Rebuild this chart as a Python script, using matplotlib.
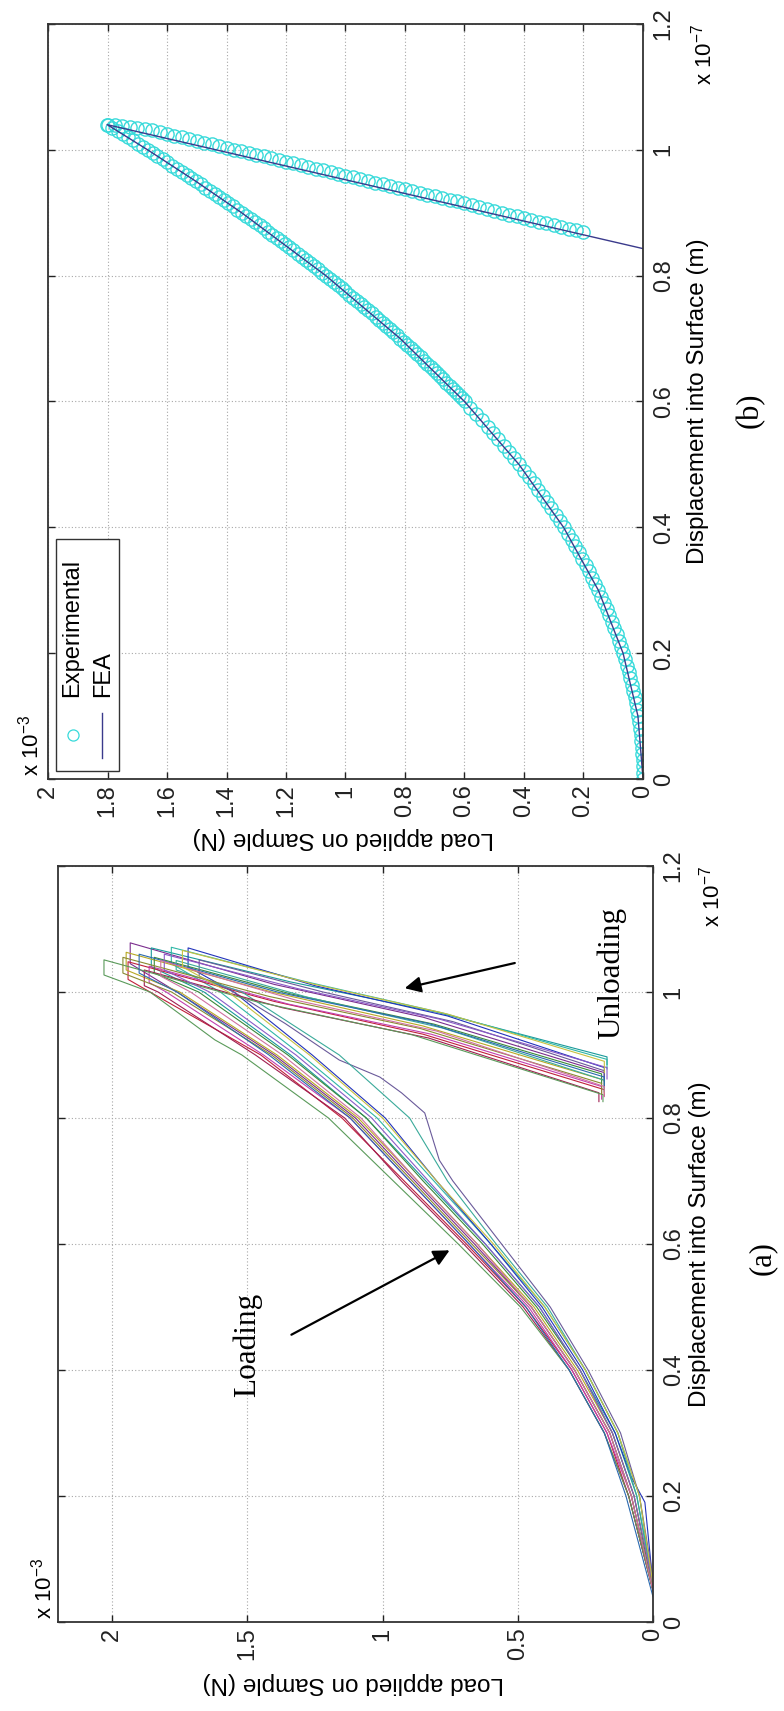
import matplotlib
matplotlib.use("Agg")
from matplotlib import pyplot as plt
from matplotlib.patches import Rectangle

plt.rcParams['font.family'] = ['Liberation Sans', 'DejaVu Sans']
plt.rcParams['mathtext.default'] = 'regular'

# units: load in 1e-3 N, displacement in 1e-7 m

# ---- panel (b): experimental circles + FEA line
exp_load_disp = [
    0.00, 0.01, 0.02, 0.03, 0.04, 0.05, 0.06, 0.07, 0.08, 0.09,
    0.10, 0.11, 0.12, 0.13, 0.14, 0.15, 0.16, 0.17, 0.18, 0.19,
    0.20, 0.21, 0.22, 0.23, 0.24, 0.25, 0.26, 0.27, 0.28, 0.29,
    0.30, 0.31, 0.32, 0.33, 0.34, 0.35, 0.36, 0.37, 0.38, 0.39,
    0.40, 0.41, 0.42, 0.43, 0.44, 0.45, 0.46, 0.47, 0.48, 0.49,
    0.50, 0.51, 0.52, 0.53, 0.54, 0.55, 0.56, 0.57, 0.58, 0.59,
    0.600, 0.605, 0.610, 0.615, 0.620, 0.625, 0.630, 0.635, 0.640, 0.645,
    0.650, 0.655, 0.660, 0.665, 0.670, 0.675, 0.680, 0.685, 0.690, 0.695,
    0.700, 0.705, 0.710, 0.715, 0.720, 0.725, 0.730, 0.735, 0.740, 0.745,
    0.750, 0.755, 0.760, 0.765, 0.770, 0.775, 0.780, 0.785, 0.790, 0.795,
    0.800, 0.805, 0.810, 0.815, 0.820, 0.825, 0.830, 0.835, 0.840, 0.845,
    0.850, 0.855, 0.860, 0.865, 0.870, 0.875, 0.880, 0.885, 0.890, 0.895,
    0.900, 0.905, 0.910, 0.915, 0.920, 0.925, 0.930, 0.935, 0.940, 0.945,
    0.950, 0.955, 0.960, 0.965, 0.970, 0.975, 0.980, 0.985, 0.990, 0.995,
    1.000, 1.005, 1.010, 1.015, 1.020, 1.025, 1.030, 1.035, 1.040]
exp_load_force = [
    0.000, 0.000, 0.001, 0.001, 0.003, 0.004, 0.006, 0.008, 0.011, 0.013,
    0.017, 0.020, 0.024, 0.028, 0.033, 0.037, 0.043, 0.048, 0.054, 0.060,
    0.067, 0.073, 0.081, 0.088, 0.096, 0.104, 0.113, 0.121, 0.131, 0.140,
    0.150, 0.160, 0.170, 0.181, 0.192, 0.204, 0.216, 0.228, 0.240, 0.253,
    0.266, 0.280, 0.294, 0.308, 0.322, 0.337, 0.352, 0.368, 0.384, 0.400,
    0.416, 0.433, 0.450, 0.468, 0.486, 0.504, 0.522, 0.541, 0.560, 0.580,
    0.599, 0.609, 0.620, 0.630, 0.640, 0.650, 0.661, 0.671, 0.682, 0.693,
    0.703, 0.714, 0.725, 0.736, 0.747, 0.759, 0.770, 0.781, 0.793, 0.804,
    0.816, 0.828, 0.839, 0.851, 0.863, 0.875, 0.887, 0.899, 0.912, 0.924,
    0.937, 0.949, 0.962, 0.974, 0.987, 1.000, 1.013, 1.026, 1.039, 1.052,
    1.066, 1.079, 1.092, 1.106, 1.120, 1.133, 1.147, 1.161, 1.175, 1.189,
    1.203, 1.217, 1.231, 1.246, 1.260, 1.275, 1.289, 1.304, 1.319, 1.334,
    1.349, 1.364, 1.379, 1.394, 1.409, 1.425, 1.440, 1.456, 1.471, 1.487,
    1.503, 1.519, 1.534, 1.550, 1.567, 1.583, 1.599, 1.615, 1.632, 1.648,
    1.665, 1.682, 1.699, 1.715, 1.732, 1.749, 1.766, 1.784, 1.801]

exp_unload_force = [
    1.800, 1.775, 1.750, 1.725, 1.700, 1.675, 1.650, 1.625, 1.600, 1.575,
    1.550, 1.525, 1.500, 1.475, 1.450, 1.425, 1.400, 1.375, 1.350, 1.325,
    1.300, 1.275, 1.250, 1.225, 1.200, 1.175, 1.150, 1.125, 1.100, 1.075,
    1.050, 1.025, 1.000, 0.975, 0.950, 0.925, 0.900, 0.875, 0.850, 0.825,
    0.800, 0.775, 0.750, 0.725, 0.700, 0.675, 0.650, 0.625, 0.600, 0.575,
    0.550, 0.525, 0.500, 0.475, 0.450, 0.425, 0.400, 0.375, 0.350, 0.325,
    0.300, 0.275, 0.250, 0.225, 0.200]
exp_unload_disp = [
    1.040, 1.039, 1.038, 1.037, 1.035, 1.033, 1.031, 1.028, 1.025, 1.022,
    1.020, 1.017, 1.014, 1.011, 1.009, 1.006, 1.003, 1.000, 0.998, 0.995,
    0.992, 0.990, 0.987, 0.984, 0.981, 0.979, 0.976, 0.973, 0.970, 0.968,
    0.965, 0.962, 0.959, 0.957, 0.954, 0.951, 0.948, 0.946, 0.943, 0.940,
    0.938, 0.935, 0.932, 0.929, 0.927, 0.924, 0.921, 0.918, 0.915, 0.912,
    0.909, 0.906, 0.903, 0.900, 0.897, 0.895, 0.891, 0.888, 0.885, 0.883,
    0.880, 0.877, 0.874, 0.872, 0.869]

fea_disp = [0.0, 0.1, 0.2, 0.3, 0.4, 0.5, 0.6, 0.7, 0.8, 0.9, 0.95, 1.0, 1.04, 0.9415, 0.843]
fea_force = [0.0, 0.017, 0.067, 0.150, 0.267, 0.417, 0.600, 0.816, 1.066, 1.349, 1.503, 1.665, 1.801, 0.9, 0.0]

# ---- panel (a): repeated indentation tests
curve_disp = [
    [0.05, 0.2, 0.3, 0.4, 0.5, 0.6, 0.7, 0.8, 0.9, 1.0, 1.045, 1.078, 1.012, 0.960, 0.872, 0.852],
    [0.06, 0.2, 0.3, 0.4, 0.5, 0.6, 0.7, 0.8, 0.9, 1.0, 1.040, 1.070, 1.016, 0.968, 0.897, 0.885],
    [0.05, 0.2, 0.3, 0.4, 0.5, 0.6, 0.7, 0.8, 0.9, 1.0, 1.045, 1.071, 1.017, 0.967, 0.893, 0.878],
    [0.06, 0.19, 0.23, 0.3, 0.4, 0.5, 0.6, 0.7, 0.8, 0.9, 1.0, 1.040, 1.070, 1.010, 0.962, 0.880, 0.862],
    [0.05, 0.2, 0.3, 0.4, 0.5, 0.6, 0.7, 0.8, 0.9, 1.0, 1.020, 1.048, 0.985, 0.933, 0.845, 0.835],
    [0.05, 0.2, 0.3, 0.4, 0.5, 0.6, 0.7, 0.8, 0.9, 1.0, 1.015, 1.041, 0.981, 0.933, 0.850, 0.830],
    [0.06, 0.2, 0.3, 0.4, 0.5, 0.6, 0.7, 0.8, 0.9, 1.0, 1.035, 1.063, 1.000, 0.946, 0.860, 0.840],
    [0.05, 0.2, 0.3, 0.4, 0.5, 0.6, 0.7, 0.8, 0.9, 1.0, 1.030, 1.055, 0.997, 0.949, 0.870, 0.855],
    [0.07, 0.2, 0.3, 0.4, 0.5, 0.6, 0.7, 0.733, 0.808, 0.84, 0.865, 0.892, 0.95, 1.0, 1.025, 1.051, 1.000, 0.953, 0.875, 0.858],
    [0.06, 0.2, 0.3, 0.4, 0.5, 0.6, 0.7, 0.8, 0.9, 1.0, 1.035, 1.050, 0.992, 0.943, 0.860, 0.842],
    [0.05, 0.2, 0.3, 0.4, 0.5, 0.6, 0.7, 0.8, 0.9, 1.0, 1.010, 1.035, 0.975, 0.927, 0.840, 0.826],
    [0.05, 0.2, 0.3, 0.4, 0.5, 0.6, 0.7, 0.8, 0.9, 0.924, 1.0, 1.027, 1.051, 0.985, 0.932, 0.837, 0.826],
    [0.06, 0.2, 0.3, 0.4, 0.5, 0.6, 0.7, 0.8, 0.9, 1.0, 1.035, 1.060, 1.005, 0.957, 0.880, 0.862],
    [0.05, 0.2, 0.3, 0.4, 0.5, 0.6, 0.7, 0.8, 0.9, 1.0, 1.030, 1.055, 0.993, 0.942, 0.855, 0.838],
    [0.04, 0.2, 0.3, 0.4, 0.5, 0.6, 0.7, 0.8, 0.9, 1.0, 1.030, 1.060, 0.999, 0.950, 0.865, 0.848],
    [0.05, 0.2, 0.3, 0.4, 0.5, 0.6, 0.7, 0.8, 0.9, 1.0, 1.025, 1.050, 0.987, 0.938, 0.850, 0.834],
    [0.06, 0.2, 0.3, 0.4, 0.5, 0.6, 0.7, 0.8, 0.9, 1.0, 1.040, 1.066, 1.013, 0.965, 0.890, 0.872],
]
curve_force = [
    [0, 0.08, 0.16, 0.29, 0.45, 0.66, 0.88, 1.10, 1.40, 1.76, 1.933, 1.933, 1.40, 0.85, 0.18, 0.18],
    [0, 0.06, 0.14, 0.27, 0.42, 0.62, 0.84, 1.06, 1.34, 1.66, 1.855, 1.855, 1.34, 0.80, 0.17, 0.17],
    [0, 0.05, 0.13, 0.25, 0.40, 0.60, 0.81, 1.02, 1.30, 1.60, 1.781, 1.781, 1.29, 0.78, 0.17, 0.17],
    [0, 0.03, 0.08, 0.14, 0.26, 0.41, 0.60, 0.80, 0.99, 1.26, 1.55, 1.719, 1.719, 1.25, 0.76, 0.18, 0.18],
    [0, 0.09, 0.17, 0.30, 0.47, 0.69, 0.92, 1.15, 1.45, 1.86, 1.941, 1.941, 1.40, 0.85, 0.18, 0.18],
    [0, 0.08, 0.17, 0.30, 0.46, 0.68, 0.90, 1.12, 1.44, 1.80, 1.863, 1.863, 1.35, 0.82, 0.19, 0.19],
    [0, 0.07, 0.15, 0.28, 0.44, 0.65, 0.87, 1.09, 1.39, 1.75, 1.948, 1.948, 1.41, 0.85, 0.18, 0.18],
    [0, 0.07, 0.15, 0.27, 0.43, 0.63, 0.85, 1.06, 1.35, 1.68, 1.844, 1.844, 1.34, 0.81, 0.19, 0.19],
    [0, 0.05, 0.12, 0.24, 0.38, 0.56, 0.74, 0.79, 0.844, 0.93, 1.01, 1.16, 1.36, 1.55, 1.678, 1.678, 1.22, 0.74, 0.18, 0.18],
    [0, 0.06, 0.13, 0.25, 0.39, 0.58, 0.76, 0.90, 1.16, 1.52, 1.763, 1.763, 1.28, 0.78, 0.18, 0.18],
    [0, 0.09, 0.18, 0.31, 0.48, 0.70, 0.93, 1.14, 1.47, 1.83, 1.881, 1.881, 1.37, 0.83, 0.20, 0.20],
    [0, 0.09, 0.18, 0.31, 0.49, 0.72, 0.96, 1.20, 1.52, 1.62, 1.86, 2.03, 2.03, 1.47, 0.89, 0.185, 0.185],
    [0, 0.07, 0.15, 0.27, 0.42, 0.62, 0.83, 1.04, 1.32, 1.64, 1.807, 1.807, 1.31, 0.79, 0.17, 0.17],
    [0, 0.08, 0.16, 0.29, 0.45, 0.67, 0.89, 1.11, 1.41, 1.78, 1.96, 1.96, 1.42, 0.86, 0.19, 0.19],
    [0, 0.10, 0.18, 0.31, 0.47, 0.68, 0.90, 1.12, 1.42, 1.76, 1.90, 1.90, 1.38, 0.83, 0.18, 0.18],
    [0, 0.08, 0.16, 0.29, 0.45, 0.65, 0.87, 1.08, 1.37, 1.71, 1.82, 1.82, 1.32, 0.80, 0.18, 0.18],
    [0, 0.05, 0.13, 0.25, 0.40, 0.59, 0.80, 1.00, 1.27, 1.57, 1.74, 1.74, 1.26, 0.76, 0.18, 0.18],
]
curve_colors = ['#7b2d8e', '#1a9a9a', '#2fb7a6', '#2233bb', '#c0203a', '#c23fb0',
                '#b8a825', '#3a8a3a', '#6a5a9a', '#3aaa9a', '#a01e50', '#5a9a5a',
                '#8a5ac8', '#8a8a30', '#2a6ab0', '#d070a0', '#c8c040']

disp_ticks = [0, 0.2, 0.4, 0.6, 0.8, 1, 1.2]
load_ticks_a = [0, 0.5, 1, 1.5, 2]
load_ticks_b = [0, 0.2, 0.4, 0.6, 0.8, 1, 1.2, 1.4, 1.6, 1.8, 2]

CYAN = '#38dada'
FEA_COLOR = '#3a3a8c'
W, H = 784.0, 1711.0


def style_axes(ax, load_max, load_ticks):
    # rotated matlab style axes: load runs right->left, displacement bottom->top
    ax.set_xlim(load_max, 0)
    ax.set_ylim(0, 1.2)
    ax.set_xticks(load_ticks)
    ax.set_xticklabels(['%g' % t for t in load_ticks], rotation=90)
    ax.set_yticks(disp_ticks)
    ax.set_yticklabels(['%g' % t for t in disp_ticks], rotation=90, va='center')
    ax.tick_params(direction='in', length=5, width=1, top=True, bottom=True,
                   left=True, right=True, labelleft=False, labelright=True,
                   labelsize=17, colors='#222222')
    ax.tick_params(axis='x', pad=4)
    ax.tick_params(axis='y', pad=7)
    ax.grid(True, linestyle=(0, (1, 2)), color='#a8a8a8', linewidth=0.8)
    for sp in ax.spines.values():
        sp.set_linewidth(1.3)
        sp.set_color('#333333')


def px_axes(left, top, right, bottom):
    return [left / W, 1 - bottom / H, (right - left) / W, (bottom - top) / H]


fig = plt.figure(figsize=(7.84, 17.11), dpi=100)
ax_b = fig.add_axes(px_axes(48, 24, 643, 779))
ax_a = fig.add_axes(px_axes(58, 866, 653, 1622))

# panel (b)
ax_b.plot(exp_load_force, exp_load_disp, 'o', mfc='none', mec=CYAN, ms=9.5, mew=1.0)
ax_b.plot(exp_unload_force, exp_unload_disp, 'o', mfc='none', mec=CYAN, ms=9.5, mew=1.0)
ax_b.plot(fea_force, fea_disp, color=FEA_COLOR, lw=1.0)
style_axes(ax_b, 2.0, load_ticks_b)

# hand made legend (rotated like the rest)
ax_b.add_patch(Rectangle((0.0134, 0.0106), 0.1056, 0.3074, transform=ax_b.transAxes,
                         fc='white', ec='#333333', lw=1.0, zorder=5))
ax_b.plot([0.042], [0.0583], 'o', transform=ax_b.transAxes, mfc='none', mec=CYAN,
          ms=8, mew=0.9, zorder=6)
ax_b.plot([0.0908, 0.0908], [0.0278, 0.0874], transform=ax_b.transAxes,
          color=FEA_COLOR, lw=1.0, zorder=6)
ax_b.text(0.0403, 0.1086, 'Experimental', transform=ax_b.transAxes, rotation=90,
          ha='center', va='bottom', fontsize=17, zorder=7)
ax_b.text(0.0924, 0.1086, 'FEA', transform=ax_b.transAxes, rotation=90,
          ha='center', va='bottom', fontsize=17, zorder=7)

# panel (a)
for d, f, c in zip(curve_disp, curve_force, curve_colors):
    ax_a.plot(f, d, color=c, lw=0.8)
style_axes(ax_a, 2.2, load_ticks_a)

ax_a.text(1.5, 0.44, 'Loading', rotation=90, ha='center', va='center',
          family='Liberation Serif', fontsize=22.5)
ax_a.text(0.152, 1.03, 'Unloading', rotation=90, ha='center', va='center',
          family='Liberation Serif', fontsize=22.5)
arrow = dict(arrowstyle='-|>', color='k', lw=1.6, mutation_scale=24, shrinkA=0, shrinkB=0)
ax_a.annotate('', xy=(0.918, 1.006), xytext=(0.511, 1.046), arrowprops=arrow)
ax_a.annotate('', xy=(0.752, 0.590), xytext=(1.337, 0.456), arrowprops=arrow)

# labels, multipliers and panel tags
for ax, lx, dx, tx, ty, mx, m7x, tag in [
        (ax_b, -0.078, 1.092, 1.18, 0.489, -0.030, 1.101, '(b)'),
        (ax_a, -0.081, 1.079, 1.183, 0.481, -0.025, 1.099, '(a)')]:
    ax.text(0.497, lx, 'Load applied on Sample (N)', transform=ax.transAxes,
            rotation=180, ha='center', va='center', fontsize=17.5)
    ax.text(dx, 0.5, 'Displacement into Surface (m)', transform=ax.transAxes,
            rotation=90, ha='center', va='center', fontsize=17.5)
    ax.text(tx, ty, tag, transform=ax.transAxes, rotation=90, ha='center',
            va='center', family='Liberation Serif', fontsize=22)
    ax.text(mx, 0.004, r'x 10$^{-3}$', transform=ax.transAxes, rotation=90,
            ha='center', va='bottom', fontsize=16)
    ax.text(m7x, 0.919, r'x 10$^{-7}$', transform=ax.transAxes, rotation=90,
            ha='center', va='bottom', fontsize=16)

fig.savefig('out.png', dpi=100)
